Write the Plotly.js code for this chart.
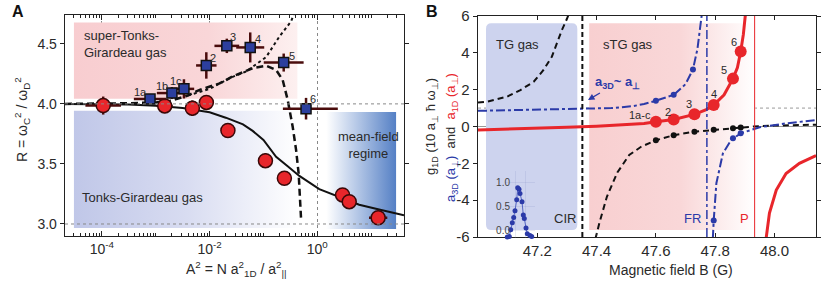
<!DOCTYPE html>
<html><head><meta charset="utf-8">
<script src="https://cdn.plot.ly/plotly-3.0.1.min.js"></script>
<style>html,body{margin:0;padding:0;background:#fff}#chart{width:831px;height:293px}</style>
</head><body><div id="chart"></div>
<script>
// ---------------- Panel A data ----------------
const decadeTicks = [1e-4, 1e-2, 1];
const decadeLabels = ['10<sup>-4</sup>', '10<sup>-2</sup>', '10<sup>0</sup>'];
const rTicks = [3.0, 3.5, 4.0, 4.5];
const rRefLines = [3.0, 4.0];

// red circles (Tonks-Girardeau branch)
const redA2 = [1.057e-4, 1.469e-3, 4.786e-3, 8.71e-3, 2.188e-2, 0.1089, 0.2449, 2.944, 3.917, 13.49];
const redR = [3.986, 3.983, 3.964, 4.012, 3.778, 3.527, 3.381, 3.242, 3.186, 3.052];
const redErrDex = [0.33, 0.15, 0.10, 0.10, 0.10, 0.11, 0.10, 0.13, 0.12, 0.17];
const redErrR = [0.075, 0.06, 0.065, 0.06, 0.06, 0.06, 0.05, 0.05, 0.05, 0.045];

// blue squares (super-Tonks-Girardeau branch)
const blueLabels = ['1a', '1b', '1c', '2', '3', '4', '5', '6'];
const blueA2 = [7.83e-4, 2.0e-3, 3.34e-3, 8.69e-3, 2.09e-2, 5.68e-2, 0.2377, 0.618];
const blueR = [4.04, 4.09, 4.125, 4.32, 4.483, 4.47, 4.344, 3.96];
const blueErrDexPlus = [0.30, 0.28, 0.19, 0.19, 0.23, 0.26, 0.37, 0.59];
const blueErrDexMinus = [0.30, 0.28, 0.19, 0.19, 0.23, 0.26, 0.37, 0.43];
const blueErrR = [0.03, 0.05, 0.08, 0.11, 0.06, 0.125, 0.075, 0.09];
const blueLabelShiftX = [-10, -10, -8, 7, 6, 8, 8, 7];
const blueLabelShiftY = [7, 7, 8, 7, 9, 8, 7, 10];

// theory curves (log10 of A^2)
const tgLogA2 = [-4.685, -4.0, -3.5, -3.0, -2.5, -2.0, -1.7, -1.38, -1.2, -1.0, -0.765, -0.55, -0.333, 0.037, 0.407, 0.778, 1.148, 1.61];
const tgR = [4.0, 3.998, 3.994, 3.985, 3.965, 3.93, 3.885, 3.83, 3.775, 3.70, 3.56, 3.48, 3.40, 3.29, 3.225, 3.16, 3.12, 3.072];
const stgLogA2 = [-4.685, -4.0, -3.5, -3.0, -2.74, -2.43, -2.185, -1.815, -1.574, -1.32, -1.198, -0.95, -0.765, -0.643, -0.55, -0.457, -0.394, -0.346, -0.302];
const stgR = [4.0, 4.002, 4.005, 4.012, 4.025, 4.065, 4.117, 4.17, 4.228, 4.275, 4.298, 4.317, 4.283, 4.20, 4.033, 3.81, 3.617, 3.42, 3.048];
const hrLogA2 = [-2.4, -2.0, -1.6, -1.32, -0.95, -0.704, -0.487, -0.44];
const hrR = [4.07, 4.125, 4.22, 4.27, 4.39, 4.56, 4.686, 4.74];

// ---------------- Panel B data ----------------
const fieldTicks = [47.2, 47.4, 47.6, 47.8, 48.0];
const gTicks = [-6, -4, -2, 0, 2, 4, 6];
const ptLabels = ['1a-c', '2', '3', '4', '5', '6'];
const ptB = [47.60, 47.66, 47.73, 47.795, 47.86, 47.886];
const ptA1D = [0.26, 0.38, 0.66, 1.17, 2.6, 4.07];
const ptG1D = [-0.75, -0.47, -0.28, -0.18, -0.09, -0.06];
const ptLabelShiftX = [-16, -6, -5, 0, -9, -7];
const ptLabelShiftY = [7, 8, 10, 11, 9, 10];

const a1dB1 = [47.00, 47.10, 47.20, 47.30, 47.40, 47.50, 47.56, 47.60, 47.66, 47.73, 47.77, 47.795, 47.83, 47.86, 47.875, 47.886, 47.895, 47.902];
const a1dV1 = [-0.19, -0.15, -0.10, -0.04, 0.02, 0.09, 0.16, 0.26, 0.38, 0.66, 0.92, 1.17, 1.72, 2.6, 3.2, 4.07, 5.0, 6.1];
const a1dB2 = [47.972, 47.983, 48.006, 48.039, 48.084, 48.14];
const a1dV2 = [-6.05, -4.7, -3.45, -2.55, -2.0, -1.58];

const g1dB1 = [47.0, 47.031, 47.098, 47.143, 47.188, 47.221, 47.249, 47.266, 47.283, 47.30, 47.306];
const g1dV1 = [1.3, 1.35, 1.62, 1.98, 2.43, 3.07, 3.79, 4.52, 5.24, 5.85, 6.1];
const g1dB2 = [47.396, 47.41, 47.435, 47.47, 47.51, 47.55, 47.60, 47.66, 47.73, 47.795, 47.86, 47.886, 47.93, 48.0, 48.14];
const g1dV2 = [-6.1, -5.2, -3.8, -2.5, -1.55, -1.1, -0.75, -0.47, -0.28, -0.18, -0.09, -0.06, 0.0, 0.05, 0.1];

const a3dB1 = [47.0, 47.2, 47.35, 47.45, 47.52, 47.56, 47.60, 47.66, 47.70, 47.725, 47.74, 47.755];
const a3dV1 = [0.85, 0.9, 0.95, 1.0, 1.1, 1.22, 1.4, 1.72, 2.3, 3.1, 4.2, 6.1];
const a3dB2 = [47.792, 47.795, 47.804, 47.826, 47.854, 47.886, 47.95, 48.04, 48.14];
const a3dV2 = [-6.1, -5.1, -3.08, -1.46, -0.73, -0.37, -0.04, 0.17, 0.35];
const a3dPtB = [47.60, 47.66, 47.725, 47.795, 47.86, 47.886];
const a3dPtV = [1.4, 1.72, 3.1, -5.1, -0.64, -0.37];

const fieldCIR = 47.352, fieldFR = 47.772, fieldP = 47.933;
const refA3D = 1.0;

// inset (loss spectrum)
const insetX = [2.3, 4.3, 5.7, 7.3, 8.7, 10, 11.7, 12.7, 14, 15, 17, 18.3, 19.3, 21, 22.3, 25, 26.7];
const insetY = [-0.13, -0.12, 0.02, 0.17, 0.28, 0.42, 0.65, 0.9, 0.87, 0.78, 0.61, 0.33, 0.26, 0.06, -0.06, -0.1, -0.12];
const insetTicks = [0.0, 0.5, 1.0];

// ---------------- helpers ----------------
const FONT = '"Liberation Sans", Arial, Helvetica, sans-serif';
const W = 831, H = 293;
const px = x => x / W, py = y => 1 - y / H;
const TXT = '#2a2a2a';
const BLUE = '#2b3aa8', RED = '#e8262b', DARKRED = '#4a0c0c';

function gradBox(xa, ya, x0, x1, y0, y1, cs) {
  return {x: [x0, x1, x1, x0, x0], y: [y0, y0, y1, y1, y0], xaxis: xa, yaxis: ya,
    mode: 'lines', line: {width: 0}, fill: 'toself',
    fillgradient: {type: 'horizontal', colorscale: cs}, hoverinfo: 'skip'};
}
function roundRectPath(x0, x1, y0, y1, rx, ry) {
  return `M${x0 + rx},${y0} L${x1 - rx},${y0} Q${x1},${y0} ${x1},${y0 + ry} L${x1},${y1 - ry} Q${x1},${y1} ${x1 - rx},${y1} ` +
    `L${x0 + rx},${y1} Q${x0},${y1} ${x0},${y1 - ry} L${x0},${y0 + ry} Q${x0},${y0} ${x0 + rx},${y0} Z`;
}
const L = v => Math.pow(10, v);

const traces = [
  // Panel A regions
  gradBox('x', 'y', L(-4.519), L(-0.37), 4.042, 4.678, [[0, '#f8cdd0'], [0.6, '#f9d6d8'], [1, '#fdf0f0']]),
  gradBox('x', 'y', L(-4.519), L(-0.333), 2.967, 3.942, [[0, '#c0c7e8'], [0.5, '#d8dcf1'], [1, '#ffffff']]),
  gradBox('x', 'y', L(0.167), L(1.463), 2.958, 3.933, [[0, '#ffffff'], [0.4, '#bccde9'], [1, '#5580c5']]),
  // Panel A curves
  {x: tgLogA2.map(L), y: tgR, xaxis: 'x', yaxis: 'y', mode: 'lines', line: {color: '#111', width: 2}},
  {x: stgLogA2.map(L), y: stgR, xaxis: 'x', yaxis: 'y', mode: 'lines', line: {color: '#111', width: 2.5, dash: '7px,4px'}},
  {x: hrLogA2.map(L), y: hrR, xaxis: 'x', yaxis: 'y', mode: 'lines', line: {color: '#111', width: 2, dash: '3px,3px'}},
  // red circles
  {x: redA2, y: redR, xaxis: 'x', yaxis: 'y', mode: 'markers',
    marker: {symbol: 'circle', size: 14, color: RED, line: {color: '#3a0808', width: 1.5}},
    error_x: {type: 'data', symmetric: false, array: redA2.map((v, i) => v * (L(redErrDex[i]) - 1)),
      arrayminus: redA2.map((v, i) => v * (1 - L(-redErrDex[i]))), color: DARKRED, thickness: 2.5, width: 0},
    error_y: {type: 'data', array: redErrR, color: DARKRED, thickness: 2.5, width: 0}},
  // blue squares
  {x: blueA2, y: blueR, xaxis: 'x', yaxis: 'y', mode: 'markers',
    marker: {symbol: 'square', size: 10, color: '#2c3f9e', line: {color: '#111', width: 1.5}},
    error_x: {type: 'data', symmetric: false, array: blueA2.map((v, i) => v * (L(blueErrDexPlus[i]) - 1)),
      arrayminus: blueA2.map((v, i) => v * (1 - L(-blueErrDexMinus[i]))), color: DARKRED, thickness: 2.5, width: 0},
    error_y: {type: 'data', array: blueErrR, color: DARKRED, thickness: 2.5, width: 0}},

  // Panel B regions
  gradBox('x2', 'y2', 47.375, 47.935, -5.62, 5.6, [[0, '#f8cfd0'], [0.55, '#f9d7d8'], [1, '#ffffff']]),
  // Panel B curves
  {x: g1dB1, y: g1dV1, xaxis: 'x2', yaxis: 'y2', mode: 'lines', line: {color: '#111', width: 2, dash: '6px,4px'}},
  {x: g1dB2, y: g1dV2, xaxis: 'x2', yaxis: 'y2', mode: 'lines', line: {color: '#111', width: 2, dash: '6px,4px'}},
  {x: ptB, y: ptG1D, xaxis: 'x2', yaxis: 'y2', mode: 'markers', marker: {color: '#111', size: 6}},
  {x: a3dB1, y: a3dV1, xaxis: 'x2', yaxis: 'y2', mode: 'lines', line: {color: BLUE, width: 2, dash: 'dashdot'}},
  {x: a3dB2, y: a3dV2, xaxis: 'x2', yaxis: 'y2', mode: 'lines', line: {color: BLUE, width: 2, dash: 'dashdot'}},
  {x: a3dPtB, y: a3dPtV, xaxis: 'x2', yaxis: 'y2', mode: 'markers', marker: {color: BLUE, size: 6}},
  {x: a1dB1, y: a1dV1, xaxis: 'x2', yaxis: 'y2', mode: 'lines', line: {color: RED, width: 3}},
  {x: a1dB2, y: a1dV2, xaxis: 'x2', yaxis: 'y2', mode: 'lines', line: {color: RED, width: 3}},
  {x: ptB, y: ptA1D, xaxis: 'x2', yaxis: 'y2', mode: 'markers', marker: {color: RED, size: 12}},
  // inset
  {x: insetX, y: insetY, xaxis: 'x3', yaxis: 'y3', mode: 'lines+markers', cliponaxis: false,
    line: {color: '#5566c4', width: 1}, marker: {color: BLUE, size: 5}}
];

const axCommon = {showline: true, linecolor: '#222', linewidth: 1.3, mirror: 'ticks', zeroline: false,
  tickcolor: '#222', tickfont: {family: FONT, size: 14, color: TXT}};

const shapes = [];
rRefLines.forEach(v => shapes.push({type: 'line', xref: 'x domain', yref: 'y', x0: 0, x1: 1, y0: v, y1: v,
  line: {color: '#888', width: 1, dash: '3px,3px'}, layer: 'above'}));
shapes.push({type: 'path', xref: 'x2', yref: 'y2', path: roundRectPath(47.027, 47.335, -5.62, 5.6, 0.018, 0.3),
  fillcolor: '#cdd3ee', line: {width: 0}, layer: 'below'});
shapes.push({type: 'line', xref: 'x2 domain', yref: 'y2', x0: 0, x1: 1, y0: 0, y1: 0, line: {color: '#999', width: 1}, layer: 'below'});
shapes.push({type: 'line', xref: 'x2 domain', yref: 'y2', x0: 0, x1: 1, y0: refA3D, y1: refA3D, line: {color: '#999', width: 1, dash: 'dot'}, layer: 'below'});
shapes.push({type: 'line', xref: 'x2', yref: 'y2 domain', x0: fieldCIR, x1: fieldCIR, y0: 0, y1: 1, line: {color: '#111', width: 2, dash: '5px,3px'}});
shapes.push({type: 'line', xref: 'x2', yref: 'y2 domain', x0: fieldFR, x1: fieldFR, y0: 0, y1: 1, line: {color: BLUE, width: 1.5, dash: 'dashdot'}});
shapes.push({type: 'line', xref: 'x2', yref: 'y2 domain', x0: fieldP, x1: fieldP, y0: 0, y1: 1, line: {color: RED, width: 1}});

const ann = [];
const T = (text, x, y, o) => ann.push(Object.assign({text, x: px(x), y: py(y), xref: 'paper', yref: 'paper',
  xanchor: 'center', yanchor: 'middle',
  showarrow: false, font: {family: FONT, size: 13, color: TXT}}, o || {}));
T('<b>A</b>', 18, 11, {font: {family: FONT, size: 16, color: '#111'}});
T('<b>B</b>', 432, 12, {font: {family: FONT, size: 16, color: '#111'}});
T('super-Tonks-<br>Girardeau gas', 82, 44, {xanchor: 'left', align: 'left'});
T('Tonks-Girardeau gas', 80, 198, {xanchor: 'left'});
T('mean-field<br>regime', 368, 145, {align: 'center'});
T('R = ω<sub>C</sub><sup>2</sup> / ω<sub>D</sub><sup>2</sup>', 22, 120, {textangle: -90, font: {family: FONT, size: 14, color: TXT}});
T('A<sup>2</sup> = N a<sup>2</sup><sub>1D</sub> / a<sup>2</sup><sub>||</sub>', 236, 269, {font: {family: FONT, size: 14, color: TXT}});
T('TG gas', 494, 44, {xanchor: 'left'});
T('sTG gas', 601, 44, {xanchor: 'left'});
T('CIR', 578, 218, {xanchor: 'right'});
T('FR', 703, 218, {xanchor: 'right', font: {family: FONT, size: 13, color: BLUE}});
T('P', 744, 218, {font: {family: FONT, size: 13, color: RED}});
T('Magnetic field B (G)', 671, 270, {font: {family: FONT, size: 14, color: TXT}});
T('g<sub>1D</sub> (10 a<sub>⊥</sub> ħ ω<sub>⊥</sub>)', 431, 127, {textangle: -90});
T('<span style="color:' + BLUE + '">a<sub>3D</sub> (a<sub>⊥</sub>)</span>  and  <span style="color:' + RED + '">a<sub>1D</sub> (a<sub>⊥</sub>)</span>', 451, 138, {textangle: -90});

blueLabels.forEach((t, i) => ann.push({text: t, x: Math.log10(blueA2[i]), y: blueR[i], xref: 'x', yref: 'y',
  xshift: blueLabelShiftX[i], yshift: blueLabelShiftY[i], showarrow: false, font: {family: FONT, size: 11, color: TXT}}));
ptLabels.forEach((t, i) => ann.push({text: t, x: ptB[i], y: ptA1D[i], xref: 'x2', yref: 'y2',
  xshift: ptLabelShiftX[i], yshift: ptLabelShiftY[i], showarrow: false, font: {family: FONT, size: 11, color: TXT}}));
ann.push({text: '<b>a<sub>3D</sub>~ a<sub>⊥</sub></b>', x: 47.371, y: 1.44, xref: 'x2', yref: 'y2',
  ax: 29, ay: -17, showarrow: true, arrowhead: 2, arrowsize: 1, arrowwidth: 1.3, arrowcolor: BLUE,
  font: {family: FONT, size: 13, color: BLUE}});

const layout = {
  width: W, height: H, margin: {l: 0, r: 0, t: 0, b: 0}, showlegend: false,
  paper_bgcolor: '#fff', plot_bgcolor: 'rgba(0,0,0,0)', font: {family: FONT, color: TXT},
  xaxis: Object.assign({}, axCommon, {type: 'log', domain: [px(65), px(404)], range: [-4.685, 1.61], anchor: 'y',
    tickmode: 'array', tickvals: decadeTicks, ticktext: decadeLabels, ticks: 'inside', ticklen: 5,
    showgrid: true, gridcolor: '#888', griddash: 'dot', gridwidth: 1,
    minor: {ticks: 'inside', ticklen: 3, dtick: 'D1', showgrid: false, tickcolor: '#222'}}),
  yaxis: Object.assign({}, axCommon, {domain: [py(236), py(15)], range: [2.9, 4.74], anchor: 'x',
    tickmode: 'array', tickvals: rTicks, ticktext: rTicks.map(v => v.toFixed(1)), ticks: 'outside', ticklen: 4, showgrid: false}),
  xaxis2: Object.assign({}, axCommon, {domain: [px(478), px(816)], range: [47.0, 48.14], anchor: 'y2',
    tickmode: 'array', tickvals: fieldTicks, ticktext: fieldTicks.map(v => v.toFixed(1)), ticks: 'inside', ticklen: 4, showgrid: false,
    tickfont: {family: FONT, size: 15, color: TXT}}),
  yaxis2: Object.assign({}, axCommon, {domain: [py(237), py(16)], range: [-6, 6], anchor: 'x2',
    tickmode: 'array', tickvals: gTicks, ticktext: gTicks.map(String), ticks: 'outside', ticklen: 4, showgrid: false,
    tickfont: {family: FONT, size: 15, color: TXT}}),
  xaxis3: {domain: [px(505), px(535)], range: [0, 30], anchor: 'y3', showline: false, zeroline: false,
    showgrid: true, gridcolor: 'rgba(130,140,190,0.35)', gridwidth: 0.5, tickvals: [10, 20], showticklabels: false, ticks: ''},
  yaxis3: {domain: [py(238), py(171)], range: [-0.15, 1.25], anchor: 'x3', showline: false, zeroline: false,
    showgrid: true, gridcolor: 'rgba(130,140,190,0.35)', gridwidth: 0.5, tickvals: insetTicks, ticktext: insetTicks.map(v => v.toFixed(1)),
    ticks: '', ticklabelstandoff: -6, tickfont: {family: FONT, size: 10, color: '#444'}},
  shapes: shapes, annotations: ann
};

Plotly.newPlot('chart', traces, layout, {staticPlot: true, displayModeBar: false});
</script></body></html>
